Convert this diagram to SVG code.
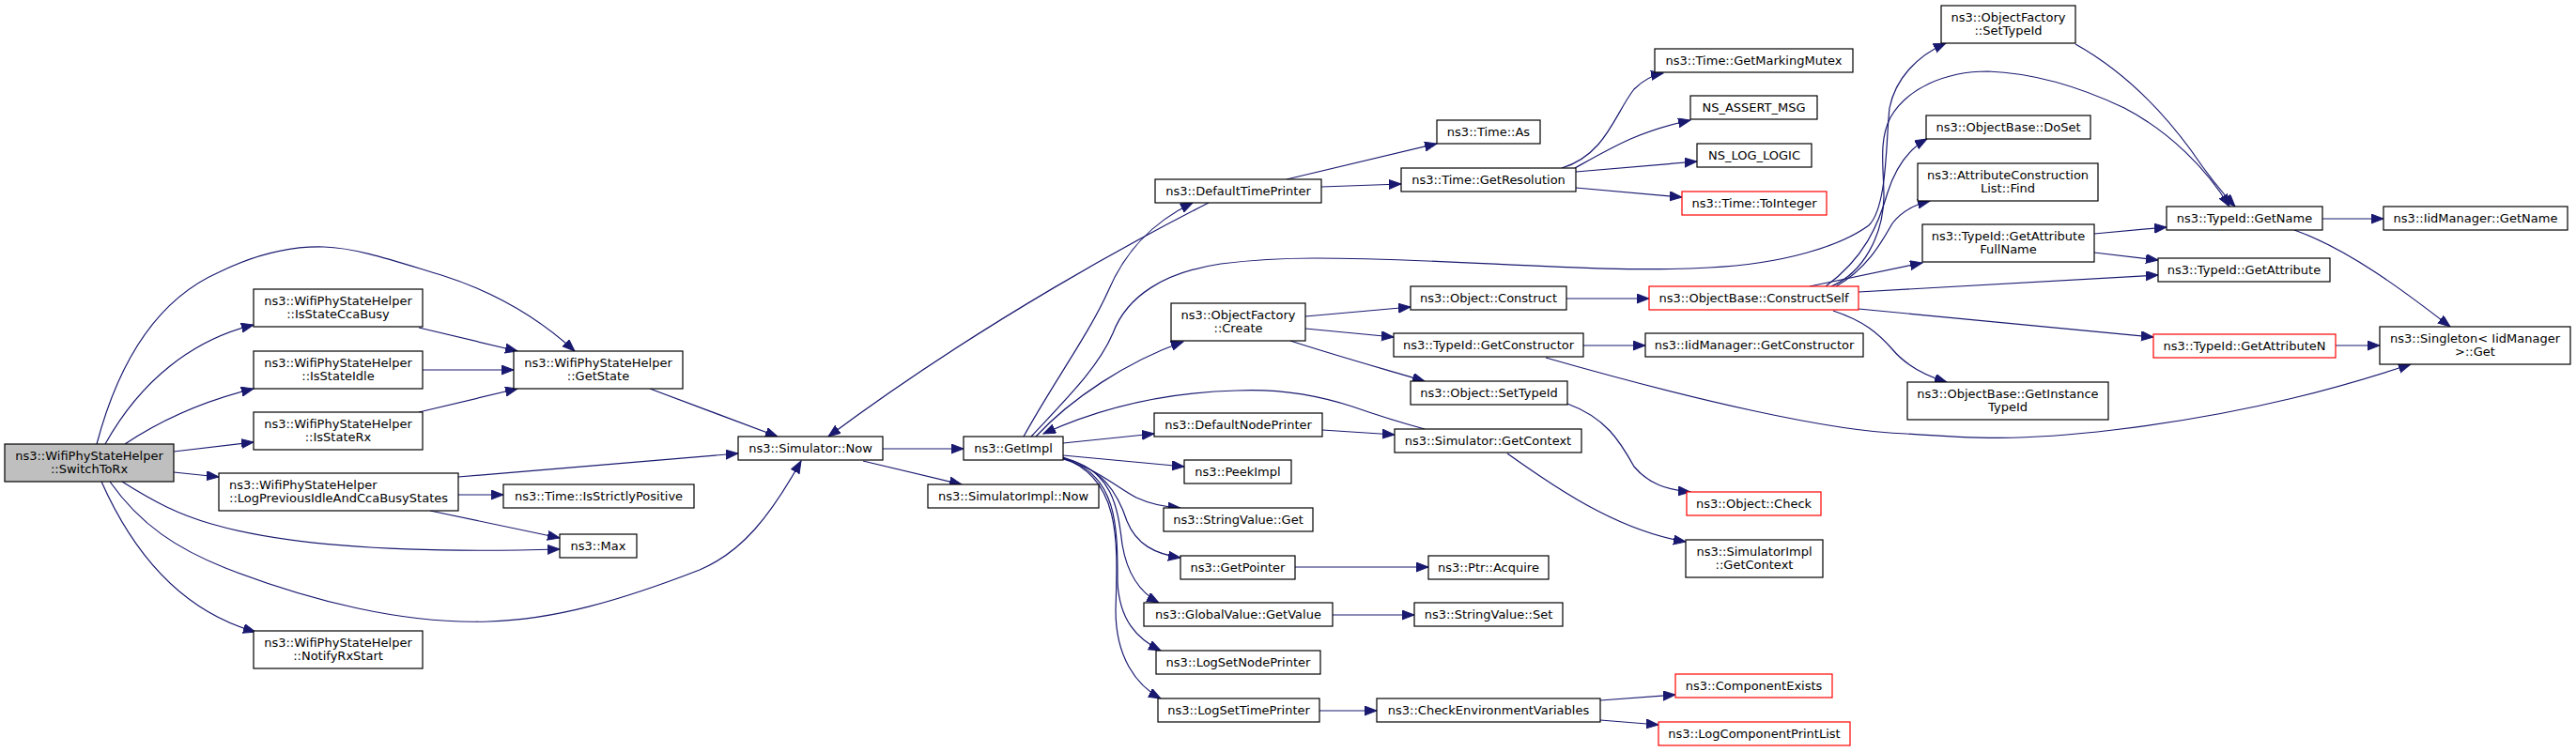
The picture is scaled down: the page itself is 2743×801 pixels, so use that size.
<svg xmlns="http://www.w3.org/2000/svg" width="2743" height="801" viewBox="0 0 2743 801">
<style>
.n rect{fill:#fff;stroke:#000;stroke-width:1.2}
.n.r rect{stroke:#ff0000}
.n.s rect{fill:#bfbfbf}
.n text{font-family:"DejaVu Sans",sans-serif;font-size:13px;fill:#000;text-anchor:middle}
.n text.l{text-anchor:start}
#edges path{fill:none;stroke:#191970;stroke-width:1.2;marker-end:url(#ah)}
</style>
<defs>
<marker id="ah" markerUnits="userSpaceOnUse" markerWidth="14" markerHeight="11" refX="13" refY="5" orient="auto">
<path d="M0,0 L13,5 L0,10 z" fill="#191970" stroke="#191970" stroke-width="1"/>
</marker>
</defs>
<rect width="2743" height="801" fill="#fff"/>
<g id="edges">
<path d="M103,473 C125,390 165,320 233,290 C270,272 310,262 345,263 C380,264 420,278 470,293 C530,312 575,340 612,374"/>
<path d="M112,473 C150,405 205,362 270,346"/>
<path d="M133,473 C175,445 225,425 270,414"/>
<path d="M185,481 L270,471"/>
<path d="M185,503 L233,508"/>
<path d="M130,513 C165,535 190,548 225,558 C300,580 420,590 596,585"/>
<path d="M117,513 C150,560 190,585 240,605 C330,640 430,665 520,662 C590,660 660,640 745,607 C790,588 820,550 853,491"/>
<path d="M108,513 C140,585 190,650 272,673"/>
<path d="M446,349 L551,374"/>
<path d="M450,394 L547,394"/>
<path d="M446,439 L551,414"/>
<path d="M692,414 L828,465"/>
<path d="M488,508 L786,483"/>
<path d="M488,527 L536,527"/>
<path d="M458,544 L596,573"/>
<path d="M940,478 L1026,478"/>
<path d="M919,491 L1024,516"/>
<path d="M1090,465 C1120,410 1160,355 1180,310 C1195,275 1220,240 1270,216"/>
<path d="M1287,216 C1220,250 1050,340 882,465"/>
<path d="M1370,191 L1530,153"/>
<path d="M1407,199 L1492,196"/>
<path d="M1663,179 C1710,165 1720,120 1740,95 C1750,85 1760,80 1771,78"/>
<path d="M1677,179 C1720,155 1745,140 1800,128"/>
<path d="M1678,183 L1807,172"/>
<path d="M1678,200 L1791,210"/>
<path d="M1103,465 C1140,425 1200,385 1260,364"/>
<path d="M1098,465 C1140,420 1170,390 1185,355 C1200,315 1240,290 1300,281 C1340,276 1370,275 1400,275 C1550,275 1700,292 1820,285 C1900,281 1960,262 1990,240 C2010,220 2008,150 2012,115 C2018,85 2040,60 2072,46"/>
<path d="M1390,337 L1502,327"/>
<path d="M1390,350 L1484,359"/>
<path d="M1374,363 C1420,378 1470,392 1517,406"/>
<path d="M1668,318 L1756,318"/>
<path d="M1686,368 L1752,368"/>
<path d="M1646,381 C1800,425 1950,460 2030,462 C2100,467 2150,470 2250,458 C2400,440 2500,410 2567,388"/>
<path d="M1669,430 C1710,445 1725,470 1740,497 C1755,515 1775,522 1800,524"/>
<path d="M1605,483 C1650,515 1720,565 1795,577"/>
<path d="M1408,458 L1485,463"/>
<path d="M1517,457 C1480,447 1460,440 1440,433 C1400,420 1360,414 1317,416 C1240,418 1170,435 1111,462"/>
<path d="M1132,472 L1229,462"/>
<path d="M1132,485 L1261,497"/>
<path d="M1132,489 C1170,500 1190,520 1210,530 C1225,537 1240,540 1257,541"/>
<path d="M1132,487 C1175,500 1190,525 1200,555 C1210,580 1230,590 1257,594"/>
<path d="M1132,488 C1185,500 1190,540 1195,580 C1200,610 1212,630 1234,642"/>
<path d="M1132,488 C1190,505 1190,560 1190,620 C1192,660 1210,680 1236,693"/>
<path d="M1132,488 C1195,510 1190,580 1188,650 C1188,700 1210,730 1236,744"/>
<path d="M1379,604 L1521,604"/>
<path d="M1419,655 L1506,655"/>
<path d="M1405,757 L1466,757"/>
<path d="M1704,746 L1784,740"/>
<path d="M1704,767 L1766,772"/>
<path d="M1950,305 C1985,290 2005,250 2006,210 C2006,180 2000,150 2013,125 C2030,95 2070,76 2117,76 C2170,78 2220,95 2262,115 C2310,140 2350,180 2374,220"/>
<path d="M2210,47 C2260,75 2300,115 2333,160 C2350,185 2366,205 2380,220"/>
<path d="M1944,305 C1985,275 2000,240 2010,205 C2018,180 2030,160 2052,148"/>
<path d="M1955,305 C1990,285 2005,255 2015,238 C2025,225 2038,218 2055,214"/>
<path d="M1927,305 L2047,280"/>
<path d="M1979,311 C2100,305 2200,298 2298,293"/>
<path d="M1979,329 C2100,340 2200,350 2293,359"/>
<path d="M1952,331 C1985,342 2000,355 2015,372 C2030,390 2050,400 2073,407"/>
<path d="M2230,249 L2307,242"/>
<path d="M2230,269 L2298,277"/>
<path d="M2473,233 L2538,233"/>
<path d="M2443,245 C2500,265 2560,310 2609,348"/>
<path d="M2487,368 L2534,368"/>
</g>
<g id="n_switchtorx" class="n s"><rect x="5" y="473" width="180" height="40"/><text x="95" y="490">ns3::WifiPhyStateHelper</text><text x="95" y="504">::SwitchToRx</text></g>
<g id="n_isstateccabusy" class="n"><rect x="270" y="308" width="180" height="40"/><text x="360" y="325">ns3::WifiPhyStateHelper</text><text x="360" y="339">::IsStateCcaBusy</text></g>
<g id="n_isstateidle" class="n"><rect x="270" y="374" width="180" height="40"/><text x="360" y="391">ns3::WifiPhyStateHelper</text><text x="360" y="405">::IsStateIdle</text></g>
<g id="n_isstaterx" class="n"><rect x="270" y="439" width="180" height="40"/><text x="360" y="456">ns3::WifiPhyStateHelper</text><text x="360" y="470">::IsStateRx</text></g>
<g id="n_getstate" class="n"><rect x="547" y="374" width="180" height="40"/><text x="637" y="391">ns3::WifiPhyStateHelper</text><text x="637" y="405">::GetState</text></g>
<g id="n_logprevious" class="n"><rect x="233" y="504" width="255" height="40"/><text class="l" x="244" y="521">ns3::WifiPhyStateHelper</text><text class="l" x="244" y="535">::LogPreviousIdleAndCcaBusyStates</text></g>
<g id="n_isstrictlypositive" class="n"><rect x="536" y="516" width="203" height="25"/><text x="637.5" y="533">ns3::Time::IsStrictlyPositive</text></g>
<g id="n_max" class="n"><rect x="596" y="569" width="82" height="25"/><text x="637" y="586">ns3::Max</text></g>
<g id="n_notifyrxstart" class="n"><rect x="270" y="672" width="180" height="40"/><text x="360" y="689">ns3::WifiPhyStateHelper</text><text x="360" y="703">::NotifyRxStart</text></g>
<g id="n_simnow" class="n"><rect x="786" y="465" width="154" height="25"/><text x="863" y="482">ns3::Simulator::Now</text></g>
<g id="n_getimpl" class="n"><rect x="1026" y="465" width="106" height="25"/><text x="1079" y="482">ns3::GetImpl</text></g>
<g id="n_simimplnow" class="n"><rect x="988" y="516" width="182" height="25"/><text x="1079" y="533">ns3::SimulatorImpl::Now</text></g>
<g id="n_defaulttimeprinter" class="n"><rect x="1230" y="191" width="177" height="25"/><text x="1318.5" y="208">ns3::DefaultTimePrinter</text></g>
<g id="n_ofcreate" class="n"><rect x="1247" y="323" width="143" height="40"/><text x="1318.5" y="340">ns3::ObjectFactory</text><text x="1318.5" y="354">::Create</text></g>
<g id="n_defaultnodeprinter" class="n"><rect x="1229" y="440" width="179" height="25"/><text x="1318.5" y="457">ns3::DefaultNodePrinter</text></g>
<g id="n_peekimpl" class="n"><rect x="1261" y="490" width="114" height="25"/><text x="1318" y="507">ns3::PeekImpl</text></g>
<g id="n_stringvalueget" class="n"><rect x="1239" y="541" width="159" height="25"/><text x="1318.5" y="558">ns3::StringValue::Get</text></g>
<g id="n_getpointer" class="n"><rect x="1257" y="592" width="122" height="25"/><text x="1318" y="609">ns3::GetPointer</text></g>
<g id="n_globalvalue" class="n"><rect x="1218" y="642" width="201" height="25"/><text x="1318.5" y="659">ns3::GlobalValue::GetValue</text></g>
<g id="n_logsetnodeprinter" class="n"><rect x="1231" y="693" width="175" height="25"/><text x="1318.5" y="710">ns3::LogSetNodePrinter</text></g>
<g id="n_logsettimeprinter" class="n"><rect x="1233" y="744" width="172" height="25"/><text x="1319" y="761">ns3::LogSetTimePrinter</text></g>
<g id="n_timeas" class="n"><rect x="1530" y="128" width="110" height="25"/><text x="1585" y="145">ns3::Time::As</text></g>
<g id="n_getresolution" class="n"><rect x="1492" y="179" width="186" height="25"/><text x="1585" y="196">ns3::Time::GetResolution</text></g>
<g id="n_markingmutex" class="n"><rect x="1762" y="52" width="211" height="25"/><text x="1867.5" y="69">ns3::Time::GetMarkingMutex</text></g>
<g id="n_assertmsg" class="n"><rect x="1800" y="102" width="135" height="25"/><text x="1867.5" y="119">NS_ASSERT_MSG</text></g>
<g id="n_loglogic" class="n"><rect x="1807" y="153" width="122" height="25"/><text x="1868" y="170">NS_LOG_LOGIC</text></g>
<g id="n_tointeger" class="n r"><rect x="1791" y="204" width="154" height="25"/><text x="1868" y="221">ns3::Time::ToInteger</text></g>
<g id="n_objconstruct" class="n"><rect x="1502" y="305" width="166" height="25"/><text x="1585" y="322">ns3::Object::Construct</text></g>
<g id="n_constructself" class="n r"><rect x="1756" y="305" width="223" height="25"/><text x="1867.5" y="322">ns3::ObjectBase::ConstructSelf</text></g>
<g id="n_getconstructor" class="n"><rect x="1484" y="355" width="202" height="25"/><text x="1585" y="372">ns3::TypeId::GetConstructor</text></g>
<g id="n_iidgetconstructor" class="n"><rect x="1752" y="355" width="232" height="25"/><text x="1868" y="372">ns3::IidManager::GetConstructor</text></g>
<g id="n_objsettypeid" class="n"><rect x="1502" y="406" width="167" height="25"/><text x="1585.5" y="423">ns3::Object::SetTypeId</text></g>
<g id="n_simgetcontext" class="n"><rect x="1485" y="457" width="199" height="25"/><text x="1584.5" y="474">ns3::Simulator::GetContext</text></g>
<g id="n_objcheck" class="n r"><rect x="1796" y="524" width="143" height="25"/><text x="1867.5" y="541">ns3::Object::Check</text></g>
<g id="n_simimplgetcontext" class="n"><rect x="1795" y="575" width="146" height="40"/><text x="1868" y="592">ns3::SimulatorImpl</text><text x="1868" y="606">::GetContext</text></g>
<g id="n_ptracquire" class="n"><rect x="1521" y="592" width="128" height="25"/><text x="1585" y="609">ns3::Ptr::Acquire</text></g>
<g id="n_stringvalueset" class="n"><rect x="1506" y="642" width="158" height="25"/><text x="1585" y="659">ns3::StringValue::Set</text></g>
<g id="n_checkenv" class="n"><rect x="1466" y="744" width="238" height="25"/><text x="1585" y="761">ns3::CheckEnvironmentVariables</text></g>
<g id="n_componentexists" class="n r"><rect x="1784" y="718" width="167" height="25"/><text x="1867.5" y="735">ns3::ComponentExists</text></g>
<g id="n_logcomponentprintlist" class="n r"><rect x="1766" y="769" width="204" height="25"/><text x="1868" y="786">ns3::LogComponentPrintList</text></g>
<g id="n_ofsettypeid" class="n"><rect x="2067" y="6" width="143" height="40"/><text x="2138.5" y="23">ns3::ObjectFactory</text><text x="2138.5" y="37">::SetTypeId</text></g>
<g id="n_doset" class="n"><rect x="2051" y="123" width="175" height="25"/><text x="2138.5" y="140">ns3::ObjectBase::DoSet</text></g>
<g id="n_acl_find" class="n"><rect x="2042" y="174" width="192" height="40"/><text x="2138" y="191">ns3::AttributeConstruction</text><text x="2138" y="205">List::Find</text></g>
<g id="n_getattrfullname" class="n"><rect x="2047" y="239" width="183" height="40"/><text x="2138.5" y="256">ns3::TypeId::GetAttribute</text><text x="2138.5" y="270">FullName</text></g>
<g id="n_getinstancetypeid" class="n"><rect x="2031" y="407" width="214" height="40"/><text x="2138" y="424">ns3::ObjectBase::GetInstance</text><text x="2138" y="438">TypeId</text></g>
<g id="n_typeidgetname" class="n"><rect x="2307" y="220" width="166" height="25"/><text x="2390" y="237">ns3::TypeId::GetName</text></g>
<g id="n_iidgetname" class="n"><rect x="2538" y="220" width="196" height="25"/><text x="2636" y="237">ns3::IidManager::GetName</text></g>
<g id="n_getattribute" class="n"><rect x="2298" y="275" width="183" height="25"/><text x="2389.5" y="292">ns3::TypeId::GetAttribute</text></g>
<g id="n_getattributen" class="n r"><rect x="2293" y="356" width="194" height="25"/><text x="2390" y="373">ns3::TypeId::GetAttributeN</text></g>
<g id="n_singletonget" class="n"><rect x="2534" y="348" width="203" height="40"/><text x="2635.5" y="365">ns3::Singleton&lt; IidManager</text><text x="2635.5" y="379">&gt;::Get</text></g>
</svg>
